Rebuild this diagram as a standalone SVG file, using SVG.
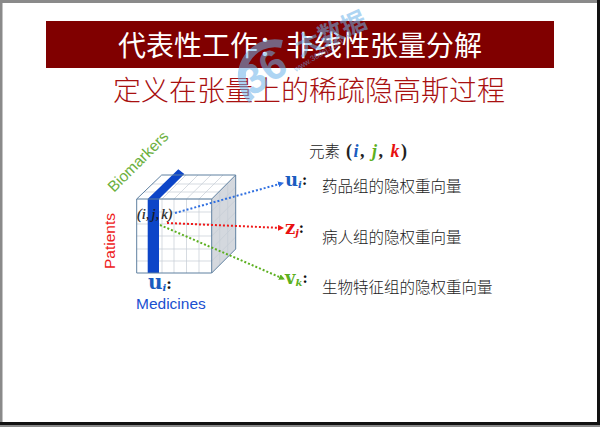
<svg xmlns="http://www.w3.org/2000/svg" width="600" height="427" viewBox="0 0 600 427">
<style>
.cjk{font-family:"Noto Sans CJK SC","Noto Sans CJK JP",sans-serif}
.song{font-family:"Noto Sans CJK SC",sans-serif;font-size:15.500px;fill:#222;font-weight:300}
.lat{font-family:"Liberation Sans",sans-serif}
.m{font-family:"DejaVu Serif","Liberation Serif",serif;font-weight:bold}
.it{font-family:"DejaVu Serif","Liberation Serif",serif;font-weight:bold;font-style:italic}
.g{stroke:#c4ccd4;stroke-width:.7;fill:none}
.e{stroke:#5f80a0;stroke-width:1;fill:none}
.d{fill:none;stroke-width:2;stroke-dasharray:2 2}
</style>
<defs>
<marker id="ab" markerWidth="7" markerHeight="7" refX="5" refY="3" orient="auto" markerUnits="userSpaceOnUse"><path d="M0 0L6 3L0 6z" fill="#2f6fe0"/></marker>
<marker id="ar" markerWidth="7" markerHeight="7" refX="5" refY="3" orient="auto" markerUnits="userSpaceOnUse"><path d="M0 0L6 3L0 6z" fill="#f01818"/></marker>
<marker id="ag" markerWidth="7" markerHeight="7" refX="5" refY="3" orient="auto" markerUnits="userSpaceOnUse"><path d="M0 0L6 3L0 6z" fill="#5cb020"/></marker>
</defs>
<rect width="600" height="427" fill="#fff"/>
<path d="M1 424V1.500H597" fill="none" stroke="#8a8a8a" stroke-width="3"/>
<path d="M598.500 0V423.500H0" fill="none" stroke="#111" stroke-width="3"/>
<rect y="425" width="600" height="2" fill="#8a8a8a"/>
<g id="title-bar">
<rect x="46" y="21" width="508" height="47" fill="#800000"/>
<text class="cjk" x="300" y="56" font-size="28" fill="#fff" text-anchor="middle">代表性工作：非线性张量分解</text>
</g>
<g id="subtitle">
<text x="309" y="101" font-size="28" fill="#a81010" text-anchor="middle" font-family="Noto Sans CJK SC,sans-serif" font-weight="300">定义在张量上的稀疏隐高斯过程</text>
</g>
<g id="cube">
<path d="M136.700 199L161.700 175H235.700L211.700 199z" fill="#fff"/>
<path d="M211.700 199L235.700 175V249L211.700 273z" fill="#d4d8de"/>
<g class="g">
<path d="M159 199H211.700M147.700 212H211.700M136.700 224H211.700M136.700 236H211.700M136.700 249H211.700M136.700 261H211.700M149 199V273M162 199V273M174 199V273M186.500 199V273M199 199V273"/>
<path d="M144 192H219M152 184H227M149 199L174 175M162 199L186 175M174 199L198 175M186.500 199L211 175M199 199L223 175"/>
<path d="M211.700 211L235.700 187M211.700 224L235.700 200M211.700 236L235.700 212M211.700 249L235.700 224M211.700 261L235.700 237M219.700 191V265M227.700 183V257"/>
</g>
<path d="M147.700 199L178.300 169.300L184.300 174L159 199V273H147.700z" fill="#0d45c8"/>
<path class="e" d="M136.700 199H211.700V273H136.700zM136.700 199L161.700 175H235.700V249L211.700 273M211.700 199L235.700 175"/>
</g>
<g id="connectors">
<path class="d" stroke="#2f6fe0" marker-end="url(#ab)" d="M175 213L283 183"/>
<path class="d" stroke="#f01818" marker-end="url(#ar)" d="M167 223L283 228"/>
<path class="d" stroke="#5cb020" marker-end="url(#ag)" d="M160 225L284 279"/>
</g>
<g id="element-ijk"><text x="137" y="219" font-size="14.500" fill="#1a1a1a" font-family="Liberation Serif,serif" font-style="italic" stroke="#1a1a1a" stroke-width=".2">(i,<tspan dx="2">j</tspan>,<tspan dx="2">k</tspan>)</text></g>
<g id="axis-biomarkers"><text class="lat" transform="translate(114 193) rotate(-45)" font-size="15.500" fill="#6cb040">Biomarkers</text></g>
<g id="axis-patients"><text class="lat" transform="translate(115 269) rotate(-90)" font-size="15.500" fill="#ee2020">Patients</text></g>
<g id="axis-medicines">
<text x="148" y="289" class="m" font-size="20" fill="#1a5cc0">u<tspan class="it" font-size="10" dy="2">i</tspan><tspan dy="-2" fill="#111" font-size="15">:</tspan></text>
<text class="lat" x="136" y="309" font-size="15.500" fill="#1a50d0">Medicines</text>
</g>
<g id="element-label">
<text class="song" x="309" y="157">元素</text>
<text x="346" y="157" font-family="Liberation Serif,serif" font-size="18" font-weight="bold" fill="#222" letter-spacing="1.500">(<tspan fill="#1a5cc0" font-style="italic">i</tspan>, <tspan fill="#5cb020" font-style="italic">j</tspan>, <tspan fill="#e81010" font-style="italic">k</tspan>)</text>
</g>
<g id="row-u">
<text x="285" y="186" class="m" font-size="18" fill="#1a5cc0">u<tspan class="it" font-size="10" dy="2">i</tspan><tspan dy="-3" fill="#111" font-size="14">:</tspan></text>
<text class="song" x="322" y="192">药品组的隐权重向量</text>
</g>
<g id="row-z">
<text x="285" y="234" class="m" font-size="18" fill="#e81010">z<tspan class="it" font-size="10" dy="2">j</tspan><tspan dy="-3" fill="#111" font-size="14">:</tspan></text>
<text class="song" x="322" y="243">病人组的隐权重向量</text>
</g>
<g id="row-v">
<text x="285" y="284" class="m" font-size="18" fill="#5cb020">v<tspan class="it" font-size="10" dy="2">k</tspan><tspan dy="-3" fill="#111" font-size="14">:</tspan></text>
<text class="song" x="322" y="293">生物特征组的隐权重向量</text>
</g>
<g id="watermark" opacity=".55" fill="#6db4ea">
<path d="M252 100A33 33 0 0 1 282 44" fill="none" stroke="#6db4ea" stroke-width="8"/>
<text transform="translate(252 97) rotate(-35)" font-family="Liberation Sans,sans-serif" font-weight="bold" font-size="42">36</text>
<text class="cjk" transform="translate(300 57) rotate(-24)" font-size="25" font-weight="bold">大数据</text>
<text class="lat" transform="translate(296 72) rotate(-32)" font-size="8">www.36dsj.com</text>
</g>
</svg>
